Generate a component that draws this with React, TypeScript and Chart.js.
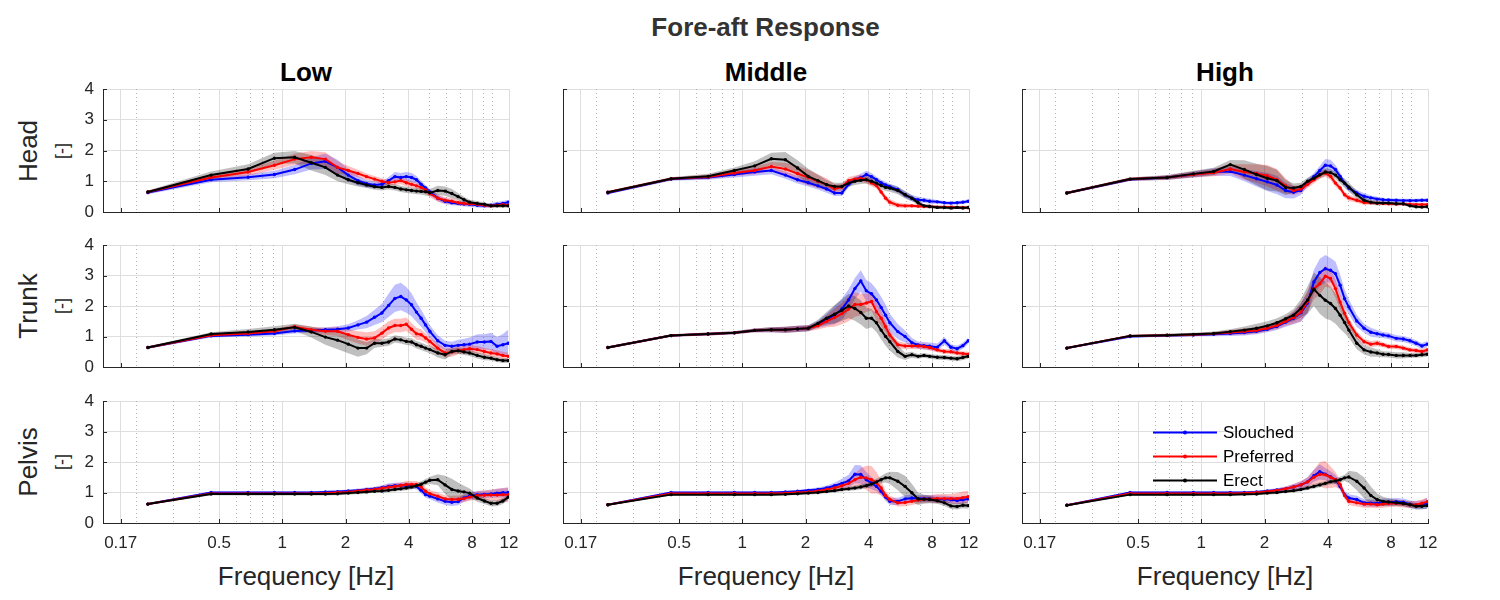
import React, { useEffect, useRef } from 'react';
import { Chart, registerables } from 'chart.js';

Chart.register(...registerables);

const FONT = '"Liberation Sans", Arial, Helvetica, sans-serif';

// frequency bins [Hz]
const FREQ = [
  0.229, 0.458, 0.687, 0.916, 1.145, 1.374, 1.603, 1.832, 2.061, 2.29,
  2.519, 2.748, 2.977, 3.206, 3.435, 3.664, 3.893, 4.122, 4.351, 4.58,
  4.809, 5.038, 5.496, 5.954, 6.412, 6.87, 7.328, 7.786, 8.473, 9.16,
  9.847, 10.534, 11.221, 11.908,
];

const X_TICKS = [0.17, 0.5, 1, 2, 4, 8, 12];
const X_TICK_LABELS = ['0.17', '0.5', '1', '2', '4', '8', '12'];
const X_MINOR = [0.2, 0.3, 0.4, 0.6, 0.7, 0.8, 0.9, 3, 5, 6, 7, 9, 10];
const Y_TICKS_FULL = [0, 1, 2, 3, 4];
const Y_TICKS_HALF = [0, 2, 4];

const ROWS = ['Head', 'Trunk', 'Pelvis'];
const COLS = ['Low', 'Middle', 'High'];
const SERIES = ['Slouched', 'Preferred', 'Erect'];
const COLORS = ['#0000ff', '#ff0000', '#000000'];
const BANDS = ['rgba(0,0,255,0.25)', 'rgba(255,0,0,0.25)', 'rgba(0,0,0,0.25)'];

/* ---- Head ---- */
const HEAD_LOW_SL = [.63,1.05,1.13,1.22,1.38,1.58,1.65,1.45,1.2,1.02, .92,.88,.9,1.02,1.15,1.12,1.15,1.12,1.05,.9, .78,.65,.45,.35,.3,.28,.26,.25,.22,.2, .22,.25,.28,.32];
const HEAD_LOW_SL_SD = [.05,.08,.1,.12,.15,.2,.25,.25,.2,.15, .12,.1,.1,.12,.15,.15,.15,.15,.12,.12, .1,.1,.1,.1,.08,.08,.08,.08,.07,.07, .07,.08,.08,.08];
const HEAD_LOW_PR = [.65,1.12,1.3,1.52,1.72,1.78,1.72,1.45,1.35,1.25, 1.15,1.07,1.0,.95,.98,1.02,.95,.9,.85,.8, .72,.6,.45,.38,.35,.3,.28,.27,.25,.22, .2,.22,.24,.22];
const HEAD_LOW_PR_SD = [.05,.1,.12,.15,.18,.2,.22,.2,.15,.12, .1,.1,.1,.1,.1,.12,.12,.1,.1,.1, .1,.12,.12,.1,.1,.08,.08,.08,.06,.06, .06,.06,.06,.06];
const HEAD_LOW_ER = [.65,1.2,1.4,1.75,1.78,1.6,1.45,1.2,1.05,.95, .88,.82,.8,.83,.8,.75,.72,.7,.68,.67, .66,.63,.7,.68,.6,.5,.4,.32,.28,.25, .2,.2,.2,.2];
const HEAD_LOW_ER_SD = [.05,.12,.15,.18,.2,.25,.25,.2,.15,.12, .1,.1,.1,.1,.1,.1,.1,.1,.1,.1, .12,.12,.15,.15,.15,.12,.1,.08,.08,.06, .06,.06,.06,.06];

const HEAD_MID_SL = [.62,1.07,1.12,1.22,1.3,1.35,1.2,1.05,.95,.85, .75,.62,.62,.9,1.05,1.12,1.22,1.15,1.05,.95, .88,.82,.73,.56,.45,.4,.38,.35,.33,.3, .29,.3,.32,.35];
const HEAD_MID_SL_SD = [.04,.05,.07,.1,.12,.12,.12,.12,.12,.12, .12,.1,.1,.1,.1,.12,.12,.12,.1,.1, .1,.1,.1,.1,.1,.1,.08,.08,.06,.06, .06,.06,.06,.06];
const HEAD_MID_PR = [.64,1.08,1.14,1.27,1.35,1.48,1.4,1.25,1.12,1.0, .9,.75,.81,1.02,1.07,1.1,1.05,.95,.86,.65, .45,.32,.22,.2,.2,.19,.18,.18,.16,.16, .16,.15,.15,.14];
const HEAD_MID_PR_SD = [.04,.05,.07,.1,.12,.15,.2,.25,.25,.22, .2,.15,.12,.12,.12,.12,.12,.12,.1,.1, .1,.1,.08,.08,.06,.06,.06,.06,.05,.05, .05,.05,.05,.05];
const HEAD_MID_ER = [.64,1.08,1.16,1.35,1.5,1.73,1.7,1.43,1.16,1.02, .89,.83,.83,.94,1.0,1.03,1.05,1.0,.94,.86, .8,.78,.7,.56,.45,.3,.2,.18,.15,.15, .13,.15,.13,.15];
const HEAD_MID_ER_SD = [.04,.05,.08,.1,.15,.2,.25,.25,.25,.2, .15,.12,.12,.12,.12,.12,.12,.12,.12,.12, .12,.12,.12,.12,.1,.08,.06,.06,.05,.05, .05,.05,.05,.05];

const HEAD_HIGH_SL = [.62,1.06,1.12,1.22,1.3,1.32,1.2,1.08,.98,.88, .7,.64,.7,.95,1.15,1.35,1.52,1.5,1.38,1.16, .94,.78,.62,.51,.46,.42,.4,.39,.38,.37, .37,.37,.38,.38];
const HEAD_HIGH_SL_SD = [.04,.05,.07,.1,.12,.15,.2,.25,.3,.3, .25,.2,.15,.12,.12,.15,.2,.2,.15,.12, .1,.1,.1,.1,.08,.08,.06,.06,.06,.06, .06,.06,.06,.06];
const HEAD_HIGH_PR = [.62,1.07,1.12,1.22,1.28,1.4,1.3,1.25,1.18,1.05, .85,.7,.75,.9,1.05,1.2,1.27,1.16,.94,.78, .56,.46,.38,.31,.3,.29,.28,.27,.26,.26, .25,.24,.24,.24];
const HEAD_HIGH_PR_SD = [.04,.05,.07,.1,.12,.15,.25,.3,.35,.35, .25,.15,.12,.12,.12,.12,.12,.12,.12,.1, .1,.1,.08,.08,.06,.06,.06,.06,.06,.05, .05,.05,.05,.05];
const HEAD_HIGH_ER = [.62,1.07,1.12,1.24,1.32,1.54,1.38,1.22,1.1,1.02, .8,.78,.83,1.0,1.1,1.21,1.3,1.28,1.2,1.05, .94,.81,.56,.38,.32,.29,.29,.29,.27,.27, .2,.17,.16,.17];
const HEAD_HIGH_ER_SD = [.04,.05,.08,.1,.12,.15,.3,.35,.4,.35, .25,.15,.12,.12,.12,.12,.12,.12,.12,.12, .15,.15,.12,.1,.08,.08,.06,.06,.06,.05, .05,.05,.05,.05];

/* ---- Trunk ---- */
const TRUNK_LOW_SL = [.64,1.02,1.06,1.1,1.18,1.2,1.22,1.24,1.28,1.38, 1.47,1.63,1.77,2.02,2.25,2.31,2.2,2.04,1.8,1.6, 1.38,1.17,.86,.71,.68,.71,.73,.75,.82,.82, .84,.68,.73,.78];
const TRUNK_LOW_SL_SD = [.04,.05,.06,.07,.08,.08,.08,.1,.12,.15, .2,.25,.3,.38,.45,.45,.42,.38,.32,.28, .24,.2,.18,.15,.15,.18,.2,.22,.25,.25, .28,.3,.35,.45];
const TRUNK_LOW_PR = [.64,1.04,1.1,1.17,1.32,1.22,1.17,1.17,1.06,.97, .92,.95,1.11,1.28,1.36,1.36,1.4,1.24,1.09,1.06, .95,.84,.62,.46,.49,.54,.57,.6,.57,.51, .46,.43,.38,.35];
const TRUNK_LOW_PR_SD = [.04,.05,.06,.07,.08,.1,.12,.15,.18,.2, .22,.22,.22,.22,.22,.22,.22,.2,.2,.18, .15,.15,.15,.15,.15,.12,.12,.12,.12,.12, .12,.12,.12,.12];
const TRUNK_LOW_ER = [.64,1.08,1.15,1.22,1.3,1.15,.98,.88,.75,.62, .62,.78,.78,.82,.92,.89,.84,.82,.73,.68, .62,.57,.46,.4,.51,.53,.49,.46,.38,.32, .29,.24,.21,.21];
const TRUNK_LOW_ER_SD = [.04,.06,.1,.12,.12,.18,.25,.3,.3,.28, .2,.15,.12,.12,.12,.12,.12,.12,.12,.12, .12,.12,.15,.15,.1,.1,.1,.1,.1,.1, .08,.08,.08,.08];

const TRUNK_MID_SL = [.64,1.03,1.08,1.12,1.2,1.22,1.22,1.25,1.27,1.4, 1.55,1.7,1.9,2.2,2.57,2.82,2.5,2.4,2.2,1.95, 1.7,1.45,1.16,1.0,.8,.72,.7,.68,.65,.86, .65,.6,.7,.86];
const TRUNK_MID_SL_SD = [.04,.04,.05,.05,.06,.08,.1,.1,.1,.12, .2,.3,.35,.35,.35,.35,.35,.35,.35,.35, .35,.3,.25,.2,.15,.12,.12,.12,.12,.12, .1,.1,.1,.1];
const TRUNK_MID_PR = [.64,1.03,1.08,1.12,1.2,1.22,1.22,1.25,1.27,1.35, 1.5,1.62,1.75,1.9,2.05,2.05,2.1,2.15,1.81,1.6, 1.32,1.05,.73,.69,.69,.69,.67,.64,.56,.51, .5,.46,.44,.42];
const TRUNK_MID_PR_SD = [.04,.04,.05,.05,.06,.08,.1,.1,.1,.12, .2,.3,.35,.4,.4,.35,.3,.3,.3,.25, .2,.15,.12,.1,.1,.1,.1,.1,.08,.08, .08,.08,.08,.08];
const TRUNK_MID_ER = [.64,1.03,1.08,1.12,1.2,1.22,1.22,1.25,1.27,1.43, 1.6,1.73,1.86,2.0,1.92,1.79,1.6,1.6,1.45,1.21, 1.0,.83,.51,.35,.4,.35,.38,.35,.32,.31, .29,.27,.31,.35];
const TRUNK_MID_ER_SD = [.04,.04,.05,.05,.06,.08,.1,.1,.1,.12, .2,.3,.35,.4,.4,.4,.35,.3,.3,.3, .3,.3,.2,.12,.1,.08,.08,.08,.08,.08, .08,.08,.08,.08];

const TRUNK_HIGH_SL = [.62,1.0,1.03,1.05,1.07,1.1,1.13,1.17,1.24,1.33, 1.47,1.6,1.78,2.1,2.79,3.1,3.22,3.17,3.06,2.68, 2.24,1.97,1.51,1.27,1.14,1.09,1.05,1.02,.94,.92, .86,.78,.69,.75];
const TRUNK_HIGH_SL_SD = [.03,.04,.05,.05,.06,.08,.1,.1,.1,.12, .15,.2,.3,.35,.4,.45,.45,.4,.4,.35, .3,.25,.2,.15,.15,.12,.1,.1,.1,.1, .1,.1,.1,.1];
const TRUNK_HIGH_PR = [.62,1.02,1.04,1.06,1.09,1.13,1.16,1.2,1.27,1.36, 1.5,1.62,1.8,2.15,2.57,2.73,2.98,2.9,2.57,2.13, 1.76,1.46,1.05,.83,.75,.78,.73,.67,.67,.62, .56,.54,.51,.56];
const TRUNK_HIGH_PR_SD = [.03,.04,.05,.05,.06,.08,.1,.1,.1,.12, .15,.2,.3,.35,.35,.35,.35,.3,.3,.25, .2,.15,.12,.1,.1,.1,.08,.08,.08,.08, .08,.08,.08,.08];
const TRUNK_HIGH_ER = [.62,1.02,1.04,1.07,1.1,1.16,1.21,1.27,1.35,1.45, 1.58,1.7,1.92,2.2,2.55,2.35,2.19,2.08,1.92,1.7, 1.46,1.21,.78,.56,.49,.46,.42,.41,.38,.38, .38,.38,.4,.42];
const TRUNK_HIGH_ER_SD = [.03,.04,.05,.05,.06,.08,.12,.15,.15,.15, .15,.2,.3,.45,.55,.6,.6,.55,.5,.45, .35,.25,.2,.15,.15,.12,.1,.1,.1,.1, .08,.08,.08,.08];

/* ---- Pelvis ---- */
const PELVIS_LOW_SL = [.62,1.0,1.0,1.0,1.0,1.0,1.02,1.03,1.05,1.07, 1.1,1.12,1.16,1.2,1.22,1.23,1.23,1.22,1.2,1.07, .93,.88,.79,.71,.68,.7,.82,.88,.93,.94, .95,.98,.99,1.0];
const PELVIS_LOW_SL_SD = [.03,.03,.03,.03,.03,.03,.04,.04,.05,.05, .06,.07,.08,.1,.1,.1,.1,.1,.1,.1, .1,.1,.12,.12,.12,.12,.12,.12,.12,.12, .12,.14,.15,.15];
const PELVIS_LOW_PR = [.62,.97,.97,.97,.97,.97,.98,1.0,1.02,1.05, 1.08,1.1,1.14,1.17,1.2,1.23,1.26,1.26,1.26,1.18, 1.04,.96,.88,.79,.77,.78,.8,.85,.9,.91, .92,.92,.93,.93];
const PELVIS_LOW_PR_SD = [.03,.03,.03,.03,.03,.03,.04,.04,.05,.05, .06,.07,.08,.1,.1,.1,.12,.12,.12,.12, .12,.12,.12,.12,.12,.12,.12,.12,.14,.16, .18,.2,.22,.25];
const PELVIS_LOW_ER = [.62,.95,.95,.95,.95,.95,.95,.96,.98,1.0, 1.02,1.04,1.05,1.07,1.1,1.12,1.15,1.18,1.22,1.27, 1.34,1.4,1.42,1.25,1.1,1.05,1.02,.98,.82,.72, .65,.65,.72,.85];
const PELVIS_LOW_ER_SD = [.03,.04,.05,.05,.05,.05,.05,.05,.05,.05, .05,.05,.06,.06,.06,.07,.08,.08,.08,.1, .1,.12,.18,.3,.35,.28,.2,.15,.12,.1, .1,.1,.1,.1];

const PELVIS_MID_SL = [.6,1.0,1.0,1.0,1.0,1.0,1.02,1.04,1.07,1.1, 1.15,1.22,1.3,1.38,1.6,1.59,1.42,1.31,1.2,1.04, .85,.71,.71,.79,.82,.8,.8,.8,.78,.78, .76,.74,.76,.79];
const PELVIS_MID_SL_SD = [.03,.03,.03,.03,.03,.03,.04,.04,.05,.06, .08,.1,.15,.2,.3,.3,.25,.2,.15,.12, .12,.12,.12,.12,.12,.12,.12,.12,.12,.12, .12,.12,.12,.12];
const PELVIS_MID_PR = [.6,.97,.97,.97,.97,.97,.98,1.0,1.02,1.05, 1.1,1.15,1.22,1.3,1.42,1.5,1.48,1.42,1.32,1.15, .9,.77,.66,.67,.71,.75,.78,.79,.8,.8, .8,.8,.83,.86];
const PELVIS_MID_PR_SD = [.03,.03,.03,.03,.03,.03,.04,.04,.05,.06, .08,.1,.12,.15,.2,.3,.4,.45,.35,.25, .15,.12,.12,.12,.12,.12,.12,.12,.15,.15, .15,.18,.2,.2];
const PELVIS_MID_ER = [.6,.93,.93,.93,.93,.93,.94,.96,.98,1.0, 1.03,1.06,1.1,1.12,1.15,1.18,1.22,1.28,1.35,1.42, 1.48,1.48,1.37,1.2,.99,.79,.78,.77,.73,.66, .56,.54,.58,.57];
const PELVIS_MID_ER_SD = [.03,.03,.03,.03,.03,.03,.04,.04,.05,.05, .05,.06,.06,.07,.08,.08,.08,.1,.1,.12, .15,.2,.3,.35,.3,.2,.15,.12,.1,.1, .1,.1,.1,.1];

const PELVIS_HIGH_SL = [.58,1.0,1.0,1.0,1.0,1.0,1.0,1.02,1.05,1.08, 1.12,1.18,1.25,1.35,1.55,1.68,1.6,1.52,1.42,1.2, .93,.82,.77,.66,.65,.65,.68,.68,.7,.68, .62,.58,.6,.65];
const PELVIS_HIGH_SL_SD = [.03,.03,.03,.03,.03,.03,.04,.04,.05,.06, .08,.1,.12,.15,.2,.25,.2,.18,.15,.12, .12,.12,.12,.12,.12,.12,.12,.12,.12,.12, .12,.14,.15,.18];
const PELVIS_HIGH_PR = [.58,.97,.97,.97,.97,.97,.98,1.0,1.03,1.07, 1.12,1.18,1.25,1.35,1.5,1.6,1.58,1.5,1.42,1.26, .9,.71,.66,.62,.62,.6,.62,.64,.65,.63, .6,.6,.65,.7];
const PELVIS_HIGH_PR_SD = [.03,.03,.03,.03,.03,.03,.04,.04,.05,.06, .08,.1,.12,.15,.25,.4,.45,.35,.25,.15, .12,.12,.12,.12,.12,.12,.12,.12,.12,.12, .12,.12,.12,.14];
const PELVIS_HIGH_ER = [.58,.93,.93,.93,.93,.93,.94,.95,.98,1.0, 1.03,1.06,1.1,1.15,1.2,1.25,1.3,1.35,1.38,1.42, 1.48,1.51,1.37,1.15,.9,.77,.71,.69,.66,.64, .6,.55,.55,.57];
const PELVIS_HIGH_ER_SD = [.03,.03,.03,.03,.03,.03,.04,.04,.05,.05, .05,.06,.06,.07,.08,.08,.08,.08,.1,.1, .1,.2,.3,.35,.3,.2,.15,.12,.1,.1, .1,.1,.1,.1];

// [row][col] -> [[mean, sd] for Slouched, Preferred, Erect]
const PANEL_SERIES = [
  [
    [[HEAD_LOW_SL, HEAD_LOW_SL_SD], [HEAD_LOW_PR, HEAD_LOW_PR_SD], [HEAD_LOW_ER, HEAD_LOW_ER_SD]],
    [[HEAD_MID_SL, HEAD_MID_SL_SD], [HEAD_MID_PR, HEAD_MID_PR_SD], [HEAD_MID_ER, HEAD_MID_ER_SD]],
    [[HEAD_HIGH_SL, HEAD_HIGH_SL_SD], [HEAD_HIGH_PR, HEAD_HIGH_PR_SD], [HEAD_HIGH_ER, HEAD_HIGH_ER_SD]],
  ],
  [
    [[TRUNK_LOW_SL, TRUNK_LOW_SL_SD], [TRUNK_LOW_PR, TRUNK_LOW_PR_SD], [TRUNK_LOW_ER, TRUNK_LOW_ER_SD]],
    [[TRUNK_MID_SL, TRUNK_MID_SL_SD], [TRUNK_MID_PR, TRUNK_MID_PR_SD], [TRUNK_MID_ER, TRUNK_MID_ER_SD]],
    [[TRUNK_HIGH_SL, TRUNK_HIGH_SL_SD], [TRUNK_HIGH_PR, TRUNK_HIGH_PR_SD], [TRUNK_HIGH_ER, TRUNK_HIGH_ER_SD]],
  ],
  [
    [[PELVIS_LOW_SL, PELVIS_LOW_SL_SD], [PELVIS_LOW_PR, PELVIS_LOW_PR_SD], [PELVIS_LOW_ER, PELVIS_LOW_ER_SD]],
    [[PELVIS_MID_SL, PELVIS_MID_SL_SD], [PELVIS_MID_PR, PELVIS_MID_PR_SD], [PELVIS_MID_ER, PELVIS_MID_ER_SD]],
    [[PELVIS_HIGH_SL, PELVIS_HIGH_SL_SD], [PELVIS_HIGH_PR, PELVIS_HIGH_PR_SD], [PELVIS_HIGH_ER, PELVIS_HIGH_ER_SD]],
  ],
];

// layout (px)
const COL_X = [103, 563, 1022];
const ROW_Y = [89, 245, 401];
const PLOT_W = 406;
const PLOT_H = [123, 122, 122];
const PAD_L = 45;
const PAD_R = 12;
const PAD_T = 10;

const GRID = '#dedede';
const AXIS = '#262626';

// keep the plot box fixed: no extra room for overflowing tick labels
const noLabelPadding = (s: any) => {
  s.paddingLeft = 0;
  s.paddingRight = 0;
  s.paddingTop = 0;
  s.paddingBottom = 0;
};

const axesPlugin = {
  id: 'matlabAxes',
  beforeDatasetsDraw(chart: any) {
    const { ctx, chartArea: a, scales } = chart;
    ctx.save();
    ctx.strokeStyle = '#b4b4b4';
    ctx.lineWidth = 1;
    ctx.setLineDash([1, 3]);
    X_MINOR.forEach((v) => {
      const x = Math.round(scales.x.getPixelForValue(v)) + 0.5;
      ctx.beginPath();
      ctx.moveTo(x, a.top);
      ctx.lineTo(x, a.bottom);
      ctx.stroke();
    });
    ctx.restore();
  },
  afterDraw(chart: any) {
    const { ctx, chartArea: a, scales } = chart;
    ctx.save();
    ctx.strokeStyle = AXIS;
    ctx.lineWidth = 1;
    ctx.beginPath();
    X_TICKS.forEach((v) => {
      const x = Math.round(scales.x.getPixelForValue(v)) + 0.5;
      ctx.moveTo(x, a.bottom);
      ctx.lineTo(x, a.bottom - 4);
    });
    scales.y.ticks.forEach((t: any) => {
      const y = Math.round(scales.y.getPixelForValue(t.value)) + 0.5;
      ctx.moveTo(a.left, y);
      ctx.lineTo(a.left + 4, y);
    });
    ctx.stroke();
    ctx.restore();
  },
};

const legendPlugin = {
  id: 'insideLegend',
  afterDatasetsDraw(chart: any) {
    const { ctx, chartArea: a } = chart;
    ctx.save();
    SERIES.forEach((name, s) => {
      const y = a.top + 31.5 + s * 24;
      ctx.strokeStyle = COLORS[s];
      ctx.lineWidth = 2;
      ctx.beginPath();
      ctx.moveTo(a.left + 131, y);
      ctx.lineTo(a.left + 195, y);
      ctx.stroke();
      ctx.fillStyle = COLORS[s];
      ctx.beginPath();
      ctx.arc(a.left + 163, y, 2, 0, Math.PI * 2);
      ctx.fill();
      ctx.fillStyle = '#000';
      ctx.font = `17px ${FONT}`;
      ctx.textBaseline = 'middle';
      ctx.textAlign = 'left';
      ctx.fillText(name, a.left + 201, y + 1);
    });
    ctx.restore();
  },
};

function Panel({ row, col }: { row: number; col: number }) {
  const ref = useRef<HTMLCanvasElement>(null);
  const isBottom = row === ROWS.length - 1;
  const padB = isBottom ? 36 : 8;
  const w = PAD_L + PLOT_W + PAD_R;
  const h = PAD_T + PLOT_H[row] + padB;
  const yTicks = col === 0 || isBottom ? Y_TICKS_FULL : Y_TICKS_HALF;

  useEffect(() => {
    const canvas = ref.current;
    if (!canvas) return;
    const series = PANEL_SERIES[row][col];
    const pts = (arr: number[]) => FREQ.map((f, i) => ({ x: f, y: arr[i] }));

    // lines first in the array so they paint on top (Erect topmost)
    const lines = [2, 1, 0].map((s) => ({
      label: SERIES[s],
      data: pts(series[s][0]),
      borderColor: COLORS[s],
      backgroundColor: COLORS[s],
      pointBackgroundColor: COLORS[s],
      borderWidth: 2,
      pointRadius: 1.7,
      pointBorderWidth: 0,
      pointHoverRadius: 0,
      tension: 0,
      fill: false,
    }));
    const bands: any[] = [];
    [2, 1, 0].forEach((s) => {
      const [mean, sd] = series[s];
      const lo = mean.map((m, i) => Math.max(0, m - sd[i]));
      const hi = mean.map((m, i) => m + sd[i]);
      const loIndex = lines.length + bands.length;
      bands.push({ data: pts(lo), borderWidth: 0, borderColor: 'transparent', pointRadius: 0, fill: false });
      bands.push({ data: pts(hi), borderWidth: 0, borderColor: 'transparent', pointRadius: 0, fill: loIndex, backgroundColor: BANDS[s] });
    });

    const tickFont = { family: FONT, size: 17 };
    const chart = new Chart(canvas, {
      type: 'line',
      data: { datasets: [...lines, ...bands] as any },
      options: {
        responsive: false,
        animation: false,
        events: [],
        layout: { padding: { left: 0, right: PAD_R, top: PAD_T, bottom: 0 }, autoPadding: false } as any,
        plugins: { legend: { display: false }, tooltip: { enabled: false }, title: { display: false } },
        scales: {
          x: {
            type: 'logarithmic',
            min: 0.14,
            max: 12,
            afterBuildTicks: (s: any) => { s.ticks = X_TICKS.map((v) => ({ value: v })); },
            afterFit: (s: any) => { s.height = padB; noLabelPadding(s); },
            ticks: {
              display: isBottom,
              autoSkip: false,
              maxRotation: 0,
              minRotation: 0,
              padding: 10,
              color: AXIS,
              font: tickFont,
              callback: (v: any) => X_TICK_LABELS[X_TICKS.indexOf(Number(v))] ?? '',
            },
            grid: { color: GRID, lineWidth: 1, drawTicks: false },
            border: { display: true, color: AXIS, width: 1 },
          },
          y: {
            min: 0,
            max: 4,
            afterBuildTicks: (s: any) => { s.ticks = yTicks.map((v) => ({ value: v })); },
            afterFit: (s: any) => { s.width = PAD_L; noLabelPadding(s); },
            ticks: { display: col === 0, padding: 9, color: AXIS, font: tickFont },
            grid: { color: GRID, lineWidth: 1, drawTicks: false },
            border: { display: true, color: AXIS, width: 1 },
          },
        },
      } as any,
      plugins: row === 2 && col === 2 ? [axesPlugin, legendPlugin] : [axesPlugin],
    });
    return () => { chart.destroy(); };
  }, [row, col]);

  return (
    <canvas
      ref={ref}
      width={w}
      height={h}
      style={{ position: 'absolute', left: COL_X[col] - PAD_L, top: ROW_Y[row] - PAD_T, width: w, height: h }}
    />
  );
}

function Label({ x, y, size, bold, color = AXIS, rotate, children }: any) {
  return (
    <div
      style={{
        position: 'absolute',
        left: x,
        top: y,
        transform: `translate(-50%, -50%)${rotate ? ' rotate(-90deg)' : ''}`,
        fontFamily: FONT,
        fontSize: size,
        fontWeight: bold ? 700 : 400,
        color,
        lineHeight: 1,
        whiteSpace: 'nowrap',
      }}
    >
      {children}
    </div>
  );
}

export default function App() {
  const centerX = (c: number) => COL_X[c] + PLOT_W / 2;
  const centerY = (r: number) => ROW_Y[r] + PLOT_H[r] / 2;
  return (
    <div style={{ position: 'absolute', left: 0, top: 0, width: 1500, height: 600, background: '#fff', overflow: 'hidden' }}>
      <Label x={(COL_X[0] + COL_X[2] + PLOT_W) / 2} y={27} size={26} bold color="#333">Fore-aft Response</Label>
      {COLS.map((c, j) => (
        <Label key={c} x={centerX(j)} y={72} size={26} bold color="#000">{c}</Label>
      ))}
      {ROWS.map((r, i) => (
        <Label key={r} x={28} y={centerY(i)} size={26} rotate>{r}</Label>
      ))}
      {ROWS.map((r, i) => (
        <Label key={r + '-unit'} x={62} y={centerY(i)} size={18} rotate>[-]</Label>
      ))}
      {COLS.map((c, j) => (
        <Label key={c + '-x'} x={centerX(j)} y={576} size={26}>Frequency [Hz]</Label>
      ))}
      {ROWS.map((_, r) => COLS.map((__, c) => <Panel key={`${r}-${c}`} row={r} col={c} />))}
    </div>
  );
}
